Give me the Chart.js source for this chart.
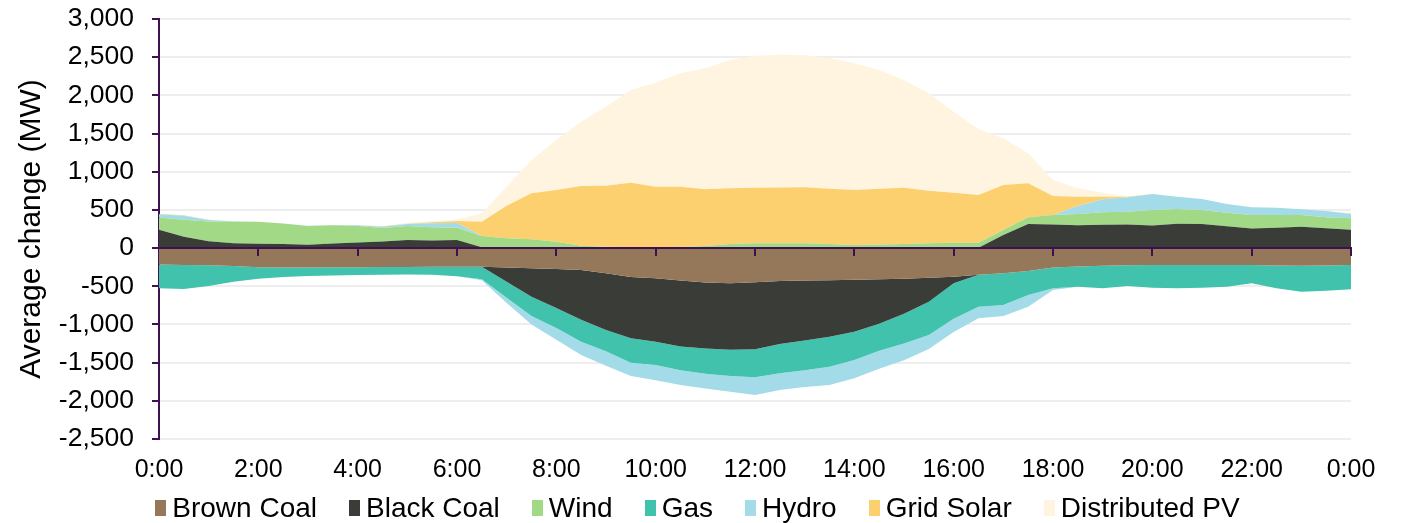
<!DOCTYPE html>
<html><head><meta charset="utf-8">
<script src="https://cdn.jsdelivr.net/npm/chart.js@4/dist/chart.umd.min.js"></script>
<style>
html,body{margin:0;padding:0;background:#fff;}
#wrap{width:1411px;height:523px;position:relative;overflow:hidden;}
#legend{position:absolute;left:0;top:491px;width:1395px;height:34px;display:flex;justify-content:center;align-items:center;font-family:"Liberation Sans",Arial,sans-serif;font-size:28px;color:#000;}
#legend .item{display:flex;align-items:center;margin:0 16px;white-space:nowrap;}
#legend .sw{display:inline-block;width:11px;height:16px;margin-right:6px;}
</style>
</head><body>
<div id="wrap"><canvas id="c"></canvas><div id="legend"></div></div>
<script>
const categories = ["0:00","0:30","1:00","1:30","2:00","2:30","3:00","3:30","4:00","4:30","5:00","5:30","6:00","6:30","7:00","7:30","8:00","8:30","9:00","9:30","10:00","10:30","11:00","11:30","12:00","12:30","13:00","13:30","14:00","14:30","15:00","15:30","16:00","16:30","17:00","17:30","18:00","18:30","19:00","19:30","20:00","20:30","21:00","21:30","22:00","22:30","23:00","23:30","0:00"];

const brownCoal = [-215,-220,-225,-235,-250,-255,-255,-252,-250,-248,-248,-243,-243,-243,-255,-265,-275,-287,-330,-380,-396,-425,-452,-460,-448,-430,-425,-420,-415,-408,-400,-390,-375,-350,-328,-300,-255,-240,-232,-225,-220,-220,-220,-220,-220,-228,-230,-228,-222];
const blackCoal = [240,150,90,65,58,55,45,60,72,85,105,100,105,10,-185,-371,-510,-653,-742,-800,-832,-863,-863,-870,-877,-826,-785,-740,-680,-582,-460,-312,-86,5,170,315,310,300,305,310,295,320,315,285,255,265,280,260,240];
const wind = [160,220,258,281,288,268,245,238,218,177,185,172,162,148,128,115,84,31,18,12,10,15,27,54,63,63,63,55,41,48,54,62,71,66,67,88,123,147,164,167,204,192,184,179,178,168,153,143,150];
const gas = [-312,-315,-270,-205,-150,-123,-110,-106,-102,-100,-97,-107,-127,-166,-210,-254,-260,-285,-278,-320,-302,-312,-330,-345,-367,-384,-390,-393,-370,-355,-390,-436,-464,-417,-417,-314,-272,-265,-295,-271,-298,-307,-298,-285,-241,-299,-341,-330,-318];
const hydro = [42,55,20,5,0,0,3,5,8,18,25,52,60,-11,-70,-110,-155,-175,-190,-175,-200,-193,-195,-205,-232,-218,-220,-240,-240,-235,-220,-182,-175,-152,-144,-153,-23,104,170,188,209,161,144,113,101,96,75,83,57];
const gridSolar = [5,5,3,0,0,0,0,0,0,5,5,13,28,188,427,602,677,782,799,845,794,789,743,729,728,730,733,723,720,728,737,690,655,624,589,445,249,122,34,8,0,0,0,0,0,0,0,0,5];
const distributedPV = [0,0,0,0,0,0,0,0,0,5,10,18,20,110,249,437,655,842,1035,1213,1362,1485,1584,1680,1729,1739,1733,1707,1659,1556,1410,1275,1060,861,612,393,210,110,53,5,0,0,0,0,0,0,0,0,0];
const yTicks = {min: -2500, max: 3000, step: 500};

const AXIS = '#3d1152';
const FONT = '"Liberation Sans", Arial, sans-serif';

const series = [
  {label: 'Brown Coal', data: brownCoal, color: '#95785a'},
  {label: 'Black Coal', data: blackCoal, color: '#3a3c38'},
  {label: 'Wind', data: wind, color: '#a2d986'},
  {label: 'Gas', data: gas, color: '#40c2ac'},
  {label: 'Hydro', data: hydro, color: '#a3dbe8'},
  {label: 'Grid Solar', data: gridSolar, color: '#fcd06e'},
  {label: 'Distributed PV', data: distributedPV, color: '#fef4e0'}
];

// split each series into negative and positive parts, each stacked in its own group
const datasets = [];
['neg', 'pos'].forEach(sign => {
  let prev = null;
  series.forEach(s => {
    const part = s.data.map(v => sign === 'neg' ? Math.min(v, 0) : Math.max(v, 0));
    if (!part.some(v => v !== 0)) return;
    datasets.push({
      label: s.label,
      data: part,
      stack: sign,
      fill: prev === null ? 'origin' : prev,
      backgroundColor: s.color,
      borderColor: s.color,
      borderWidth: 0,
      pointRadius: 0,
      tension: 0
    });
    prev = datasets.length - 1;
  });
});

const zeroLine = {
  id: 'zeroLine',
  afterDatasetsDraw(chart) {
    const {ctx, chartArea, scales} = chart;
    const x = scales.x, y = scales.y;
    const y0 = y.getPixelForValue(0);
    ctx.save();
    ctx.strokeStyle = AXIS;
    ctx.lineWidth = 2;
    ctx.beginPath();
    ctx.moveTo(chartArea.left, y0);
    ctx.lineTo(chartArea.right + 1, y0);
    ctx.stroke();
    ctx.beginPath();
    x.ticks.forEach((t, i) => {
      if (t.label === '' || i === 0) return;
      const px = Math.round(x.getPixelForTick(i));
      ctx.moveTo(px, y0);
      ctx.lineTo(px, y0 + 8);
    });
    ctx.stroke();
    ctx.restore();
  }
};

new Chart(document.getElementById('c'), {
  type: 'line',
  data: {labels: categories, datasets},
  plugins: [zeroLine],
  options: {
    responsive: true,
    maintainAspectRatio: false,
    animation: false,
    layout: {padding: {top: 19, right: 60, left: 0, bottom: 44}},
    plugins: {legend: {display: false}, tooltip: {enabled: false}},
    scales: {
      x: {
        type: 'category',
        offset: false,
        afterFit(s) { s.height = 40; s.paddingLeft = 0; s.paddingRight = 0; },
        grid: {display: false, drawTicks: false},
        border: {display: false},
        ticks: {
          autoSkip: false, maxRotation: 0, padding: 16, color: '#000',
          font: {family: FONT, size: 25},
          callback(v, i) { return i % 4 === 0 ? categories[i] : ''; }
        }
      },
      y: {
        stacked: true,
        min: yTicks.min, max: yTicks.max,
        afterFit(s) { s.width = 159; s.paddingTop = 0; s.paddingBottom = 0; },
        ticks: {
          stepSize: yTicks.step, padding: 18, color: '#000',
          font: {family: FONT, size: 26.5},
          callback: v => Number(v).toLocaleString('en-US')
        },
        grid: {color: '#eeeeee', lineWidth: 2, tickColor: AXIS, tickLength: 7, tickWidth: 2},
        border: {color: AXIS, width: 2},
        title: {display: true, text: 'Average change (MW)', color: '#000', font: {family: FONT, size: 30}, padding: {top: 14, bottom: 0}}
      }
    }
  }
});

const lg = document.getElementById('legend');
series.forEach(s => {
  const it = document.createElement('span');
  it.className = 'item';
  const sw = document.createElement('span');
  sw.className = 'sw';
  sw.style.background = s.color;
  it.appendChild(sw);
  it.appendChild(document.createTextNode(s.label));
  lg.appendChild(it);
});
</script>
</body></html>
